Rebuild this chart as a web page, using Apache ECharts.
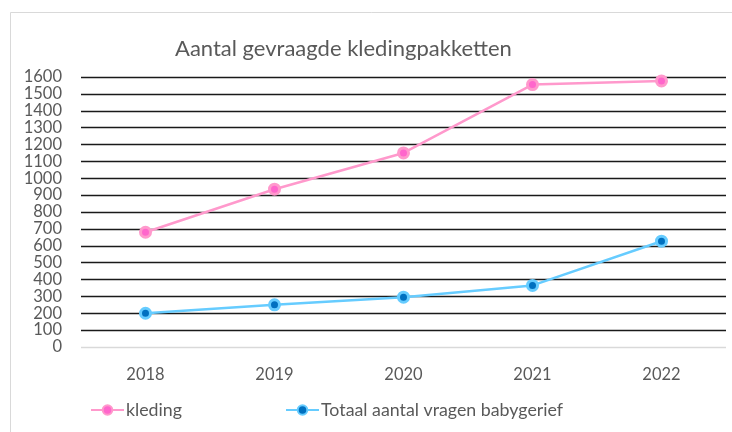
<!DOCTYPE html>
<html><head><meta charset="utf-8">
<script src="https://cdn.jsdelivr.net/npm/echarts@6/dist/echarts.min.js"></script>
<style>html,body{margin:0;padding:0;background:#fff}#c{width:732px;height:432px}</style>
</head><body><div id="c"></div>
<script>
var categories = ['2018', '2019', '2020', '2021', '2022'];
var kleding = [680, 935, 1150, 1555, 1577];
var babygerief = [200, 250, 295, 365, 627];
var seriesNames = ['kleding', 'Totaal aantal vragen babygerief'];
var titleText = 'Aantal gevraagde kledingpakketten';

var FONT = 'Lato, "Open Sans", sans-serif';
var legendBase = {
  itemWidth: 33, itemHeight: 12, top: 401, padding: 0,
  textStyle: {fontFamily: FONT, fontSize: 17.8, color: '#595959', padding: [0,0,0,-3]}
};
var gridColors = ['#d9d9d9'];
for (var i = 0; i < 16; i++) gridColors.push('#1a1a1a');
var chart = echarts.init(document.getElementById('c'), null, {renderer: 'canvas'});
chart.setOption({
  animation: false,
  backgroundColor: '#fff',
  graphic: [{type: 'rect', shape: {x: 10.5, y: 12.5, width: 760, height: 460},
    style: {fill: 'none', stroke: '#d9d9d9', lineWidth: 1}, silent: true}],
  title: {text: titleText, left: 170, top: 33,
    textStyle: {fontFamily: FONT, fontSize: 22, fontWeight: 'normal', color: '#595959'}},
  legend: [
    Object.assign({}, legendBase, {data: [seriesNames[0]], left: 90}),
    Object.assign({}, legendBase, {data: [seriesNames[1]], left: 285})
  ],
  grid: {left: 81, right: 6, top: 77, bottom: 85, containLabel: false},
  xAxis: {
    type: 'category', data: categories, boundaryGap: true,
    axisLine: {show: false},
    axisTick: {show: false},
    axisLabel: {fontFamily: FONT, fontSize: 16.5, color: '#595959', margin: 19}
  },
  yAxis: {
    type: 'value', min: 0, max: 1600, interval: 100,
    axisLine: {show: false}, axisTick: {show: false},
    axisLabel: {fontFamily: FONT, fontSize: 16.5, color: '#595959', margin: 19,
      formatter: function (v) { return String(v); }},
    splitLine: {lineStyle: {color: gridColors, width: 1.3}}
  },
  series: [{
    name: seriesNames[0], type: 'line', data: kleding,
    symbol: 'circle', symbolSize: 10,
    lineStyle: {color: '#ff99cc', width: 2.5},
    itemStyle: {color: '#ff66cc', borderColor: '#ff99cc', borderWidth: 3},
    z: 3
  }, {
    name: seriesNames[1], type: 'line', data: babygerief,
    symbol: 'circle', symbolSize: 10,
    lineStyle: {color: '#66ccff', width: 2.5},
    itemStyle: {color: '#0070c0', borderColor: '#66ccff', borderWidth: 3},
    z: 3
  }]
});
</script></body></html>
